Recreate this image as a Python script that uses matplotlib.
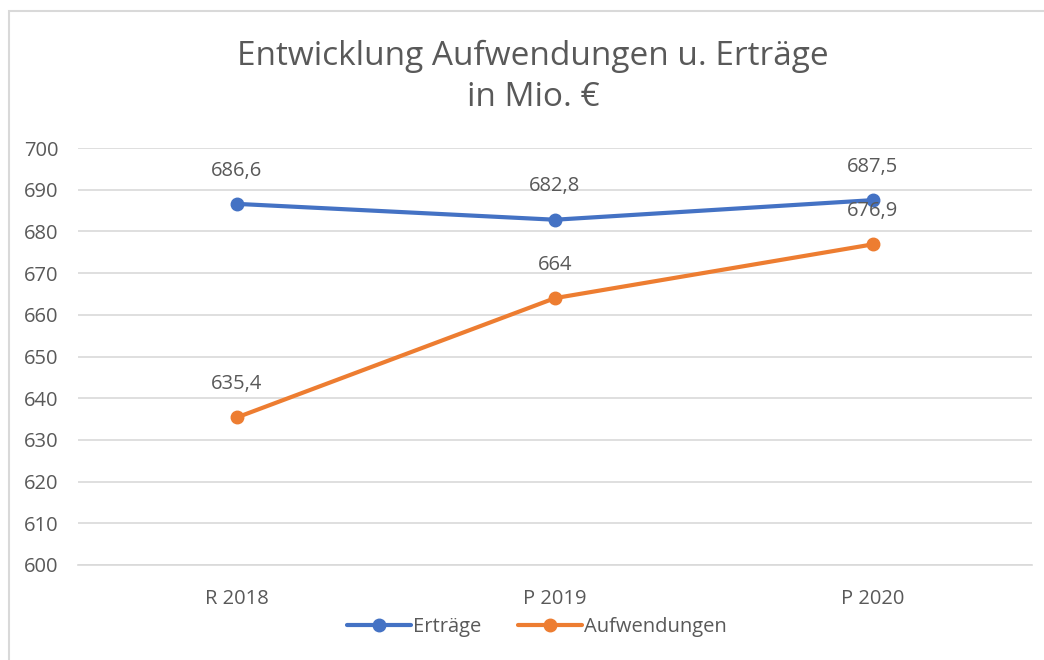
import matplotlib.pyplot as plt
from matplotlib.patches import Rectangle

# chart data
categories = ["R 2018", "P 2019", "P 2020"]
ertraege = [686.6, 682.8, 687.5]
aufwendungen = [635.4, 664, 676.9]
ertraege_labels = ["686,6", "682,8", "687,5"]
aufwendungen_labels = ["635,4", "664", "676,9"]

text_color = "#595959"
plt.rcParams['font.family'] = ['Open Sans', 'DejaVu Sans']

fig = plt.figure(figsize=(10.44, 6.6), dpi=100)
ax = fig.add_axes([78 / 1044, 1 - 565 / 660, 954 / 1044, 417 / 660])

# light frame around the chart (top and left visible)
fig.patches.append(Rectangle((8.5 / 1044, -0.05), 1.1, 1 - 10.5 / 660 + 0.05,
                             transform=fig.transFigure, fill=False,
                             edgecolor="#d9d9d9", linewidth=1.5))

x = range(len(categories))
ax.plot(x, ertraege, color="#4472C4", linewidth=3, marker="o", markersize=9,
        label="Erträge", solid_capstyle="round", zorder=3)
ax.plot(x, aufwendungen, color="#ED7D31", linewidth=3, marker="o", markersize=9,
        label="Aufwendungen", solid_capstyle="round", zorder=3)

for xi, v, lab in zip(x, ertraege, ertraege_labels):
    ax.annotate(lab, (xi, v), xytext=(0, 24), textcoords="offset points",
                ha="center", va="center", fontsize=14.5, color=text_color)
for xi, v, lab in zip(x, aufwendungen, aufwendungen_labels):
    ax.annotate(lab, (xi, v), xytext=(0, 24), textcoords="offset points",
                ha="center", va="center", fontsize=14.5, color=text_color)

ax.set_xlim(-0.5, 2.5)
ax.set_ylim(600, 700)
ax.set_yticks(range(600, 701, 10))
ax.set_xticks(list(x))
ax.set_xticklabels(categories)
ax.grid(axis="y", color="#d9d9d9", linewidth=1.2)
ax.set_axisbelow(True)
for s in ["top", "right", "left"]:
    ax.spines[s].set_visible(False)
ax.spines["bottom"].set_color("#d9d9d9")
ax.spines["bottom"].set_linewidth(1.2)
ax.tick_params(axis="both", length=0, labelsize=14.5, labelcolor=text_color)
ax.tick_params(axis="y", pad=14)
ax.tick_params(axis="x", pad=17)

fig.text(533 / 1044, 1 - 77 / 660, "Entwicklung Aufwendungen u. Erträge\nin Mio. €",
         ha="center", va="center", fontsize=24, color=text_color, linespacing=1.3)

fig.legend(loc="center", bbox_to_anchor=(537 / 1044, 1 - 627 / 660), ncol=2,
           frameon=False, fontsize=14.5, labelcolor=text_color,
           handlelength=3.2, handletextpad=0.1, columnspacing=1.8)

fig.savefig("out.png", dpi=100)
